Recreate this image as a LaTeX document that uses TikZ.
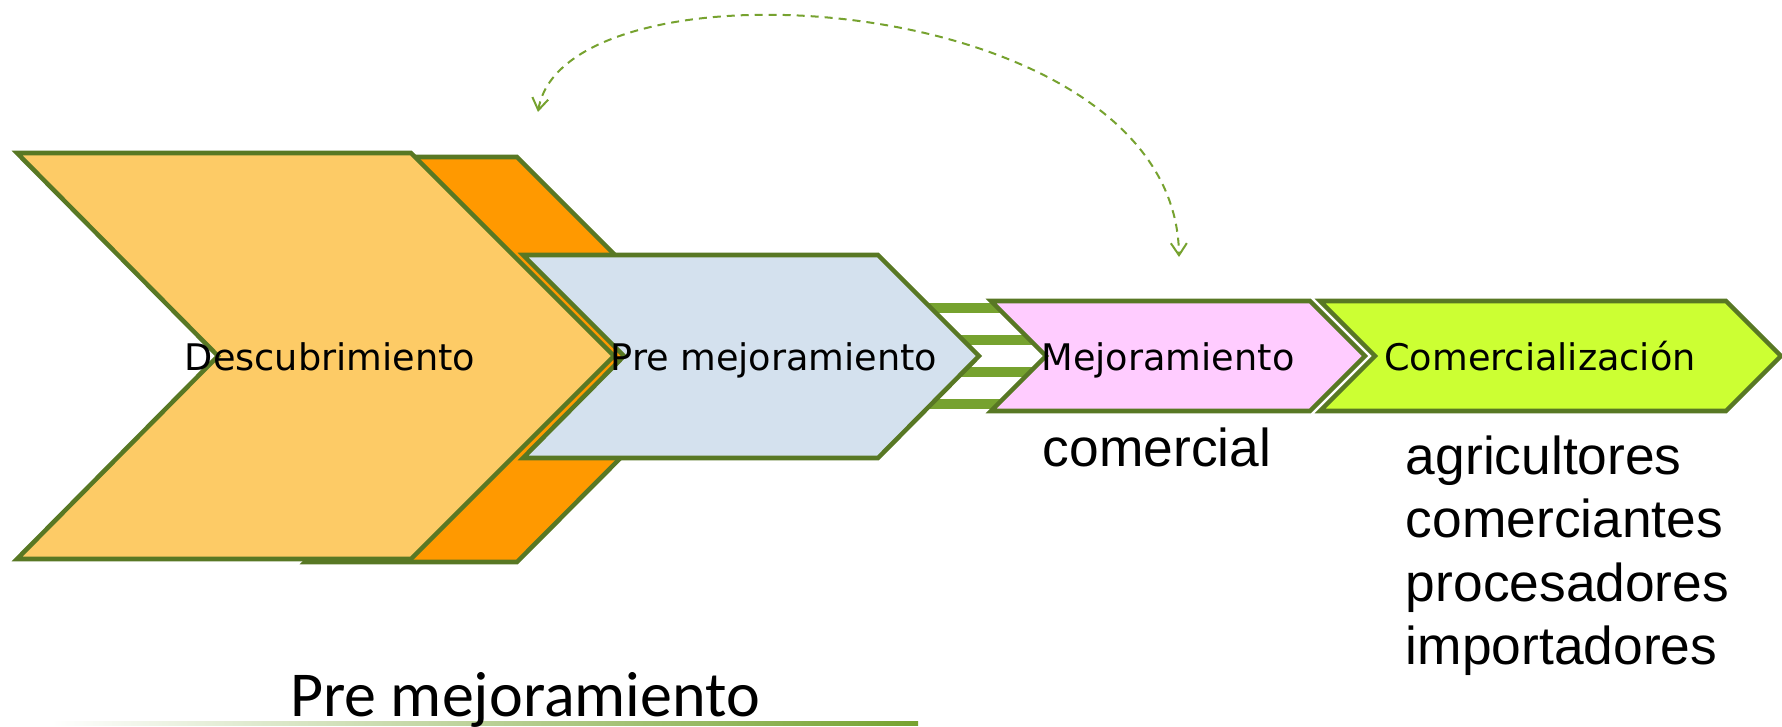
\documentclass[tikz,border=0pt]{standalone}
\usepackage{fontspec}
\usetikzlibrary{arrows.meta}
\newfontfamily\chevfont{DejaVu Sans}
\newfontfamily\listfont{Liberation Sans}
\newfontfamily\titlefont{Carlito}

\tikzset{every picture/.style={line width=0.75pt}}
\tikzset{
  chevron/.style={draw={rgb, 255:red, 88; green, 120; blue, 36 }, line width=3.4pt},
  chevlabel/.style={font=\chevfont\fontsize{27.5}{33}\selectfont, anchor=base},
  listlabel/.style={font=\listfont\fontsize{40}{48}\selectfont, anchor=base west},
  bar/.style={draw={rgb, 255:red, 118; green, 162; blue, 47 }, line width=7pt},
}

\begin{document}
\begin{tikzpicture}[x=0.75pt,y=0.75pt,yscale=-1,xscale=1]
	\useasboundingbox (0,0) rectangle (1782,727);

	%Shape: Chevron (back, dark orange)
	\draw [chevron, fill={rgb, 255:red, 255; green, 153; blue, 0 }] (305,157) -- (517,157) -- (719,359) -- (517,562) -- (305,562) -- (507,359) -- cycle ;
	%Straight Lines (bars)
	\draw [bar] (925,308) -- (1045,308) ;
	\draw [bar] (925,340) -- (1045,340) ;
	\draw [bar] (925,372) -- (1045,372) ;
	\draw [bar] (925,404) -- (1045,404) ;
	%Shape: Chevron (blue)
	\draw [chevron, fill={rgb, 255:red, 212; green, 225; blue, 238 }] (523,255) -- (878,255) -- (979,356) -- (878,458) -- (523,458) -- (624,356) -- cycle ;
	%Shape: Chevron (light orange)
	\draw [chevron, fill={rgb, 255:red, 253; green, 203; blue, 102 }] (17,153) -- (411,153) -- (614,356) -- (411,559) -- (17,559) -- (218,356) -- cycle ;
	%Shape: Chevron (pink)
	\draw [chevron, fill={rgb, 255:red, 255; green, 204; blue, 255 }] (991,301) -- (1310,301) -- (1365,356) -- (1310,411) -- (991,411) -- (1046,356) -- cycle ;
	%Shape: Chevron (lime)
	\draw [chevron, fill={rgb, 255:red, 204; green, 255; blue, 51 }] (1320,301) -- (1726,301) -- (1781,356) -- (1726,411) -- (1320,411) -- (1375,356) -- cycle ;

	%Curve Lines
	\coordinate (arcL) at (538,112);
	\coordinate (arcR) at (1179,257);
	\draw [draw={rgb, 255:red, 118; green, 162; blue, 47 }, line width=1.5pt, dash pattern={on 6pt off 4.5pt}, {Straight Barb[length=9pt,width=12pt]}-{Straight Barb[length=9pt,width=12pt]}] (arcL) .. controls (565,-50) and (1176,-12) .. (arcR) ;

	%Straight Lines (underline)
	\shade [left color=white, right color={rgb, 255:red, 118; green, 162; blue, 47 }] (51,721) rectangle (918,725) ;

	% Text Node
	\draw (330,370) node [chevlabel] (descub) {Descubrimiento};
	% Text Node
	\draw (774,370) node [chevlabel] (premej) {Pre mejoramiento};
	% Text Node
	\draw (1168,370) node [chevlabel] (mejor) {Mejoramiento};
	% Text Node
	\draw (1540,370) node [chevlabel] (comerz) {Comercialización};
	% Text Node
	\draw (1157,466) node [listlabel, anchor=base] (comercial) {comercial};
	% Text Node
	\draw (1401,474) node [listlabel] (agri) {agricultores};
	% Text Node
	\draw (1401,537) node [listlabel] (comerc) {comerciantes};
	% Text Node
	\draw (1401,601) node [listlabel] (proces) {procesadores};
	% Text Node
	\draw (1401,664) node [listlabel] (import) {importadores};
	% Text Node
	\draw (525,716) node [font=\titlefont\fontsize{48}{58}\selectfont, anchor=base] (titulo) {Pre mejoramiento};

\end{tikzpicture}
\end{document}
